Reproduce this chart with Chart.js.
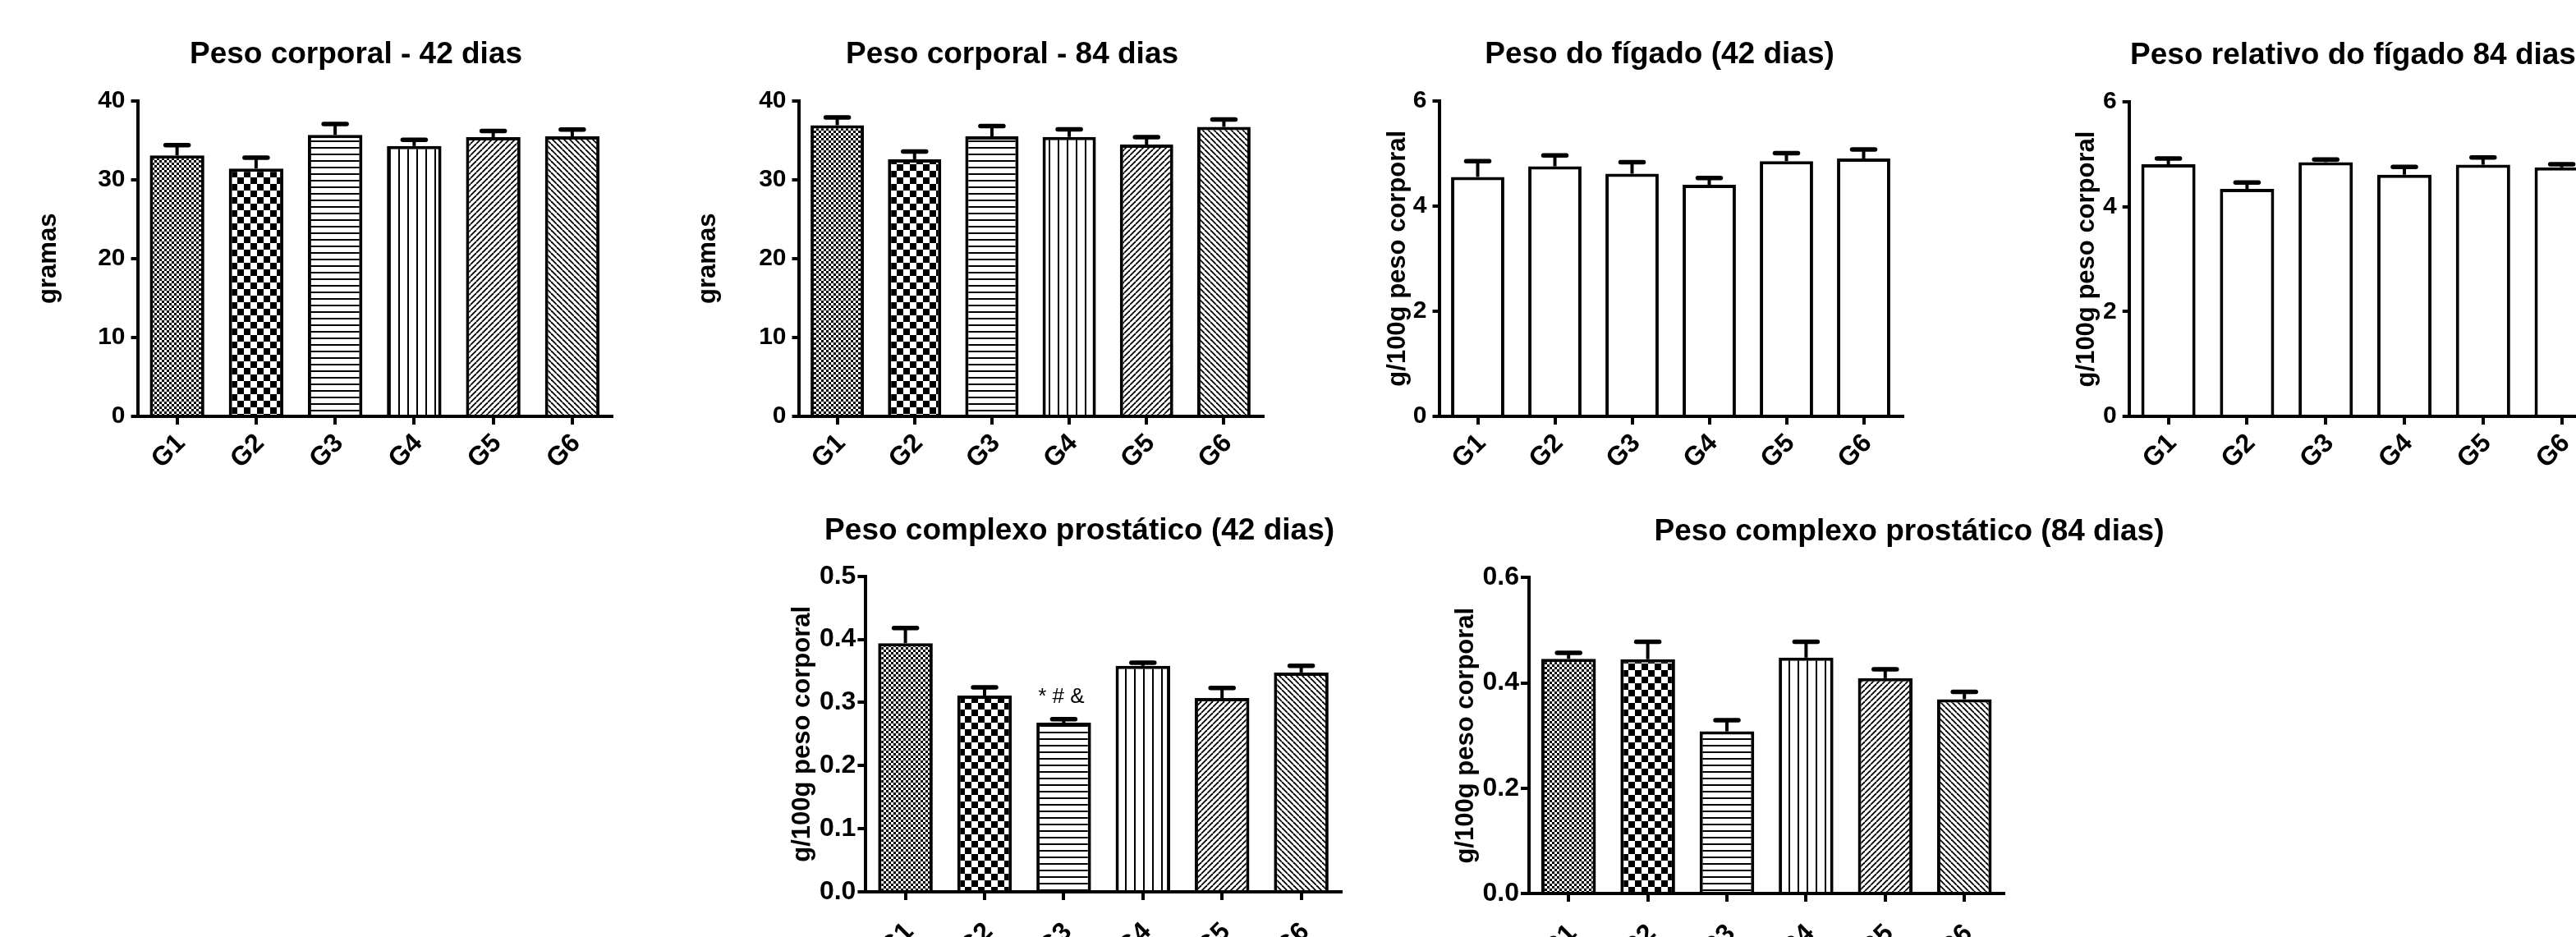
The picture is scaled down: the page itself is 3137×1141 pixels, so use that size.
<!DOCTYPE html>
<html>
<head>
<meta charset="utf-8">
<script src="https://cdn.jsdelivr.net/npm/chart.js@4.4.1/dist/chart.umd.min.js"></script>
<style>
  html, body { margin: 0; padding: 0; background: #fff; width: 3137px; height: 1141px; overflow: hidden; position: relative; }
  canvas { position: absolute; }
</style>
</head>
<body>
<script>
// ---------------- DATA ----------------
const groups = ['G1', 'G2', 'G3', 'G4', 'G5', 'G6'];

const bodyWeight42Mean = [33.05, 31.4, 35.65, 34.24, 35.36, 35.47];
const bodyWeight42Sem  = [1.3, 1.36, 1.38, 0.78, 0.78, 0.85];

const bodyWeight84Mean = [36.88, 32.57, 35.47, 35.39, 34.43, 36.66];
const bodyWeight84Sem  = [1.0, 0.97, 1.3, 0.97, 0.93, 0.96];

const liver42Mean = [4.55, 4.75, 4.61, 4.40, 4.85, 4.90];
const liver42Sem  = [0.30, 0.21, 0.22, 0.13, 0.15, 0.17];

const liver84Mean = [4.81, 4.34, 4.85, 4.61, 4.80, 4.75];
const liver84Sem  = [0.11, 0.12, 0.05, 0.15, 0.14, 0.06];

const prostate42Mean = [0.394, 0.311, 0.268, 0.358, 0.307, 0.3475];
const prostate42Sem  = [0.024, 0.013, 0.0055, 0.005, 0.016, 0.0105];
const prostate42Marks = ['', '', '* # &', '', '', ''];

const prostate84Mean = [0.4456, 0.445, 0.308, 0.448, 0.409, 0.369];
const prostate84Sem  = [0.0114, 0.033, 0.021, 0.030, 0.017, 0.014];

const ticksGramas = ['0', '10', '20', '30', '40'];
const ticksLiver = ['0', '2', '4', '6'];
const ticksProstate42 = ['0.0', '0.1', '0.2', '0.3', '0.4', '0.5'];
const ticksProstate84 = ['0.0', '0.2', '0.4', '0.6'];

// ---------------- STYLE ----------------
const FONT = "'Liberation Sans', Arial, Helvetica, sans-serif";
Chart.defaults.font.family = FONT;
Chart.defaults.color = '#000';

function makePattern(kind) {
  const c = document.createElement('canvas');
  const g = c.getContext('2d');
  let s = 8;
  if (kind === 'fine') s = 6;
  if (kind === 'check') s = 16;
  if (kind === 'h') s = 8;
  if (kind === 'v') s = 11;
  if (kind === 'd1' || kind === 'd2') s = 7;
  c.width = s; c.height = s;
  g.fillStyle = '#fff'; g.fillRect(0, 0, s, s);
  g.fillStyle = '#000'; g.strokeStyle = '#000';
  if (kind === 'fine') { g.fillRect(0, 0, 3, 3); g.fillRect(3, 3, 3, 3); }
  if (kind === 'check') { g.fillRect(0, 0, 8, 8); g.fillRect(8, 8, 8, 8); }
  if (kind === 'h') { g.fillRect(0, 3, s, 2); }
  if (kind === 'v') { g.fillRect(4, 0, 2, s); }
  if (kind === 'd1' || kind === 'd2') {
    g.lineWidth = 1.8;
    for (const o of [-s, 0, s]) {
      g.beginPath();
      if (kind === 'd1') { g.moveTo(o, s); g.lineTo(o + s, 0); }
      else { g.moveTo(o, 0); g.lineTo(o + s, s); }
      g.stroke();
    }
  }
  return g.createPattern(c, 'repeat');
}
const patternFills = ['fine', 'check', 'h', 'v', 'd1', 'd2'].map(makePattern);
const whiteFills = groups.map(() => '#ffffff');

const errorBarsPlugin = {
  id: 'errorBars',
  afterDatasetsDraw(chart, args, opts) {
    const meta = chart.getDatasetMeta(0);
    const ys = chart.scales.y;
    const ctx = chart.ctx;
    const means = chart.data.datasets[0].data;
    ctx.save();
    ctx.strokeStyle = '#000';
    ctx.fillStyle = '#000';
    meta.data.forEach((bar, i) => {
      const x = bar.x;
      const yMean = ys.getPixelForValue(means[i]);
      const yTop = ys.getPixelForValue(means[i] + opts.sem[i]);
      ctx.lineCap = 'butt'; ctx.lineWidth = 4;
      ctx.beginPath(); ctx.moveTo(x, yMean); ctx.lineTo(x, yTop); ctx.stroke();
      ctx.lineCap = 'round'; ctx.lineWidth = 5.5;
      ctx.beginPath(); ctx.moveTo(x - 14, yTop); ctx.lineTo(x + 14, yTop); ctx.stroke();
      if (opts.marks && opts.marks[i]) {
        ctx.font = '26px ' + FONT;
        ctx.textAlign = 'center';
        ctx.textBaseline = 'alphabetic';
        ctx.fillText(opts.marks[i], x - 3, yTop - 20);
      }
    });
    ctx.restore();
  }
};

const panelTitlePlugin = {
  id: 'panelTitle',
  afterDraw(chart, args, opts) {
    const ctx = chart.ctx;
    ctx.save();
    ctx.font = 'bold 37px ' + FONT;
    ctx.fillStyle = '#000';
    ctx.textAlign = 'center';
    ctx.textBaseline = 'alphabetic';
    ctx.fillText(opts.text, opts.x, opts.y);
    ctx.restore();
  }
};

function makePanel(p) {
  const canvas = document.createElement('canvas');
  canvas.width = p.w; canvas.height = p.h;
  canvas.style.left = p.left + 'px';
  canvas.style.top = p.top + 'px';
  canvas.style.width = p.w + 'px';
  canvas.style.height = p.h + 'px';
  document.body.appendChild(canvas);
  const padRight = p.w - p.yW - p.chartW;
  new Chart(canvas, {
    type: 'bar',
    data: {
      labels: groups,
      datasets: [{
        data: p.mean,
        backgroundColor: p.fills,
        borderColor: '#000',
        borderWidth: 4,
        borderSkipped: 'start',
        categoryPercentage: 1,
        barPercentage: 0.69
      }]
    },
    options: {
      responsive: false,
      animation: false,
      devicePixelRatio: 1,
      events: [],
      layout: { padding: { left: 0, top: p.padTop, right: padRight, bottom: 0 } },
      plugins: {
        legend: { display: false },
        tooltip: { enabled: false },
        title: { display: false },
        errorBars: { sem: p.sem, marks: p.marks },
        panelTitle: { text: p.title, x: p.titleX, y: p.titleY }
      },
      scales: {
        x: {
          grid: { display: true, drawOnChartArea: false, drawTicks: true, tickLength: 10, offset: false, color: '#000', lineWidth: 4 },
          border: { display: true, color: '#000', width: 4 },
          ticks: { font: { size: 32, weight: 'bold' }, color: '#000', minRotation: 45, maxRotation: 45, autoSkip: false, padding: p.xPad, labelOffset: 5 },
          afterFit: s => { s.height = p.xH; }
        },
        y: {
          min: p.min, max: p.max,
          ticks: { stepSize: p.step, font: { size: p.yTickSize, weight: 'bold' }, color: '#000', padding: p.yTickPad,
                   callback: (v, i) => p.tickLabels[i] },
          grid: { display: true, drawOnChartArea: false, drawTicks: true, tickLength: p.yTickLen, color: '#000', lineWidth: 4 },
          border: { display: true, color: '#000', width: 4 },
          title: { display: true, text: p.yTitle, font: { size: 31, weight: 'bold' }, color: '#000', padding: { top: 0, bottom: 0 } },
          afterFit: s => { s.width = p.yW; }
        }
      }
    },
    plugins: [errorBarsPlugin, panelTitlePlugin]
  });
}

const topRow = { top: 0, h: 600, xH: 93, xPad: 4, yTickSize: 30, yTickPad: 7, yTickLen: 8 };
const bottomRow = { top: 560, h: 640, xPad: 20, yTickSize: 32, yTickPad: 2, yTickLen: 10 };

makePanel(Object.assign({}, topRow, {
  left: 41, w: 749, yW: 126.5, chartW: 577.5, padTop: 122.5,
  title: 'Peso corporal - 42 dias', titleX: 392.5, titleY: 76.7,
  yTitle: 'gramas', mean: bodyWeight42Mean, sem: bodyWeight42Sem, fills: patternFills,
  min: 0, max: 40, step: 10, tickLabels: ticksGramas
}));
makePanel(Object.assign({}, topRow, {
  left: 844, w: 739, yW: 128.5, chartW: 565, padTop: 122.5,
  title: 'Peso corporal - 84 dias', titleX: 388.5, titleY: 76.7,
  yTitle: 'gramas', mean: bodyWeight84Mean, sem: bodyWeight84Sem, fills: patternFills,
  min: 0, max: 40, step: 10, tickLabels: ticksGramas
}));
makePanel(Object.assign({}, topRow, {
  left: 1684, w: 678, yW: 68.5, chartW: 564, padTop: 122.5,
  title: 'Peso do fígado (42 dias)', titleX: 337, titleY: 76.5,
  yTitle: 'g/100g peso corporal', mean: liver42Mean, sem: liver42Sem, fills: whiteFills,
  min: 0, max: 6, step: 2, tickLabels: ticksLiver
}));
makePanel(Object.assign({}, topRow, {
  left: 2523, w: 690, yW: 69.7, chartW: 574.8, padTop: 124,
  title: 'Peso relativo do fígado 84 dias', titleX: 342.5, titleY: 78,
  yTitle: 'g/100g peso corporal', mean: liver84Mean, sem: liver84Sem, fills: whiteFills,
  min: 0, max: 6, step: 2, tickLabels: ticksLiver
}));
makePanel(Object.assign({}, bottomRow, {
  left: 959, w: 719, yW: 95.4, chartW: 578.4, padTop: 141.7, xH: 114,
  title: 'Peso complexo prostático (42 dias)', titleX: 355.6, titleY: 97,
  yTitle: 'g/100g peso corporal', mean: prostate42Mean, sem: prostate42Sem, marks: prostate42Marks, fills: patternFills,
  min: 0, max: 0.5, step: 0.1, tickLabels: ticksProstate42
}));
makePanel(Object.assign({}, bottomRow, {
  left: 1767, w: 880, yW: 95, chartW: 578.4, padTop: 143.4, xH: 112,
  title: 'Peso complexo prostático (84 dias)', titleX: 558, titleY: 97.9,
  yTitle: 'g/100g peso corporal', mean: prostate84Mean, sem: prostate84Sem, fills: patternFills,
  min: 0, max: 0.6, step: 0.2, tickLabels: ticksProstate84
}));
</script>
</body>
</html>
